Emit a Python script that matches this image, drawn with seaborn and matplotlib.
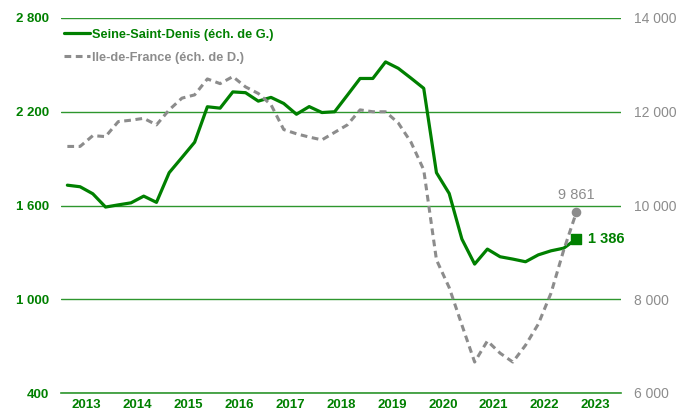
import pandas as pd
import matplotlib.pyplot as plt
import seaborn as sns

# quarterly series, 2013-T1 .. 2023-T1
periods = [f"{y}-T{q}" for y in range(2013, 2024) for q in range(1, 5)][:41]

# Seine-Saint-Denis (left scale)
ssd = [1730, 1720, 1675, 1590, 1604, 1617, 1660, 1620,
       1810, 1907, 2005, 2232, 2223, 2327, 2322, 2268,
       2292, 2253, 2184, 2233, 2195, 2200, 2306, 2413,
       2413, 2519, 2478, 2415, 2350, 1810, 1677, 1385,
       1225, 1321, 1272, 1257, 1240, 1284, 1310, 1327,
       1386]

# Ile-de-France (right scale)
idf = [11260, 11260, 11490, 11470, 11790, 11820, 11860, 11720,
       12040, 12290, 12360, 12700, 12600, 12750, 12530, 12390,
       12150, 11620, 11530, 11460, 11400, 11560, 11720, 12040,
       12000, 12000, 11760, 11350, 10760, 8840, 8250, 7450,
       6660, 7110, 6850, 6660, 7020, 7470, 8130, 9050,
       9861]

years = list(range(2013, 2024))
left_ticks = [400, 1000, 1600, 2200, 2800]
right_ticks = [6000, 8000, 10000, 12000, 14000]

GREEN = '#008000'
GREY = '#8c8c8c'
GRID = '#2e962e'


def fmt(v):
    return f"{v:,.0f}".replace(",", " ")


df = pd.DataFrame({'periode': periods, 'ssd': ssd, 'idf': idf})
df['x'] = df['periode'].str[:4].astype(int) + (df['periode'].str[-1].astype(int) - 0.5) / 4

sns.set_theme(style='white')
plt.rcParams['font.family'] = ['Liberation Sans', 'DejaVu Sans']

fig = plt.figure(figsize=(6.88, 4.13), dpi=100)
ax = fig.add_axes([61 / 688, 20 / 413, 560 / 688, 375 / 413])
ax2 = ax.twinx()

sns.lineplot(data=df, x='x', y='ssd', ax=ax, color=GREEN, lw=2.3, legend=False)
sns.lineplot(data=df, x='x', y='idf', ax=ax2, color=GREY, lw=2.2,
             linestyle=(0, (2.2, 1.5)), legend=False)

# end markers + labels
last = df.iloc[-1]
ax.scatter(last['x'], last['ssd'], marker='s', s=55, color=GREEN, zorder=5)
ax.annotate(fmt(last['ssd']), (last['x'], last['ssd']), xytext=(8, 0),
            textcoords='offset points', ha='left', va='center',
            color=GREEN, fontsize=10.5, fontweight='bold')
ax2.scatter(last['x'], last['idf'], marker='o', s=35, color=GREY, zorder=5)
ax2.annotate(fmt(last['idf']), (last['x'], last['idf']), xytext=(0, 12.5),
             textcoords='offset points', ha='center', va='center',
             color=GREY, fontsize=10.5)

# axes
ax.set_xlim(2013, 2024)
ax.set_ylim(400, 2800)
ax2.set_ylim(6000, 14000)
ax.set_xticks([y + 0.5 for y in years], labels=[str(y) for y in years])
ax.set_xticks(years + [2024], minor=True)
ax.set_yticks(left_ticks, labels=[fmt(v) for v in left_ticks])
ax2.set_yticks(right_ticks, labels=[fmt(v) for v in right_ticks])
ax.set_xlabel('')
ax.set_ylabel('')
ax2.set_ylabel('')

ax.tick_params(axis='x', which='major', length=0, pad=4.5, labelsize=9.5,
               labelcolor=GREEN)
ax.tick_params(axis='x', which='minor', length=3.5, width=1, direction='in',
               color=GREEN)
for t in ax.get_xticklabels():
    t.set_fontweight('bold')
ax.tick_params(axis='y', length=0, pad=8.5, labelsize=9.5, labelcolor=GREEN)
for t in ax.get_yticklabels():
    t.set_fontweight('bold')
ax2.tick_params(axis='y', length=0, pad=9, labelsize=10, labelcolor=GREY)

ax.yaxis.grid(True, color=GRID, lw=1)
ax.set_axisbelow(True)
for s in ['left', 'right', 'top']:
    ax.spines[s].set_visible(False)
ax.spines['bottom'].set_color(GRID)
ax.spines['bottom'].set_linewidth(1.2)
for s in ax2.spines.values():
    s.set_visible(False)

# legend
handles = [ax.get_lines()[0], ax2.get_lines()[0]]
leg = ax2.legend(handles, ['Seine-Saint-Denis (éch. de G.)', 'Ile-de-France (éch. de D.)'],
                 loc='upper left', bbox_to_anchor=(0.0, 0.978), frameon=False,
                 handlelength=2.1, handletextpad=0.1, labelspacing=0.85,
                 borderaxespad=0, borderpad=0.2,
                 prop={'size': 9.2, 'weight': 'bold'})
for txt, c in zip(leg.get_texts(), [GREEN, GREY]):
    txt.set_color(c)

plt.savefig('out.png', dpi=100)
